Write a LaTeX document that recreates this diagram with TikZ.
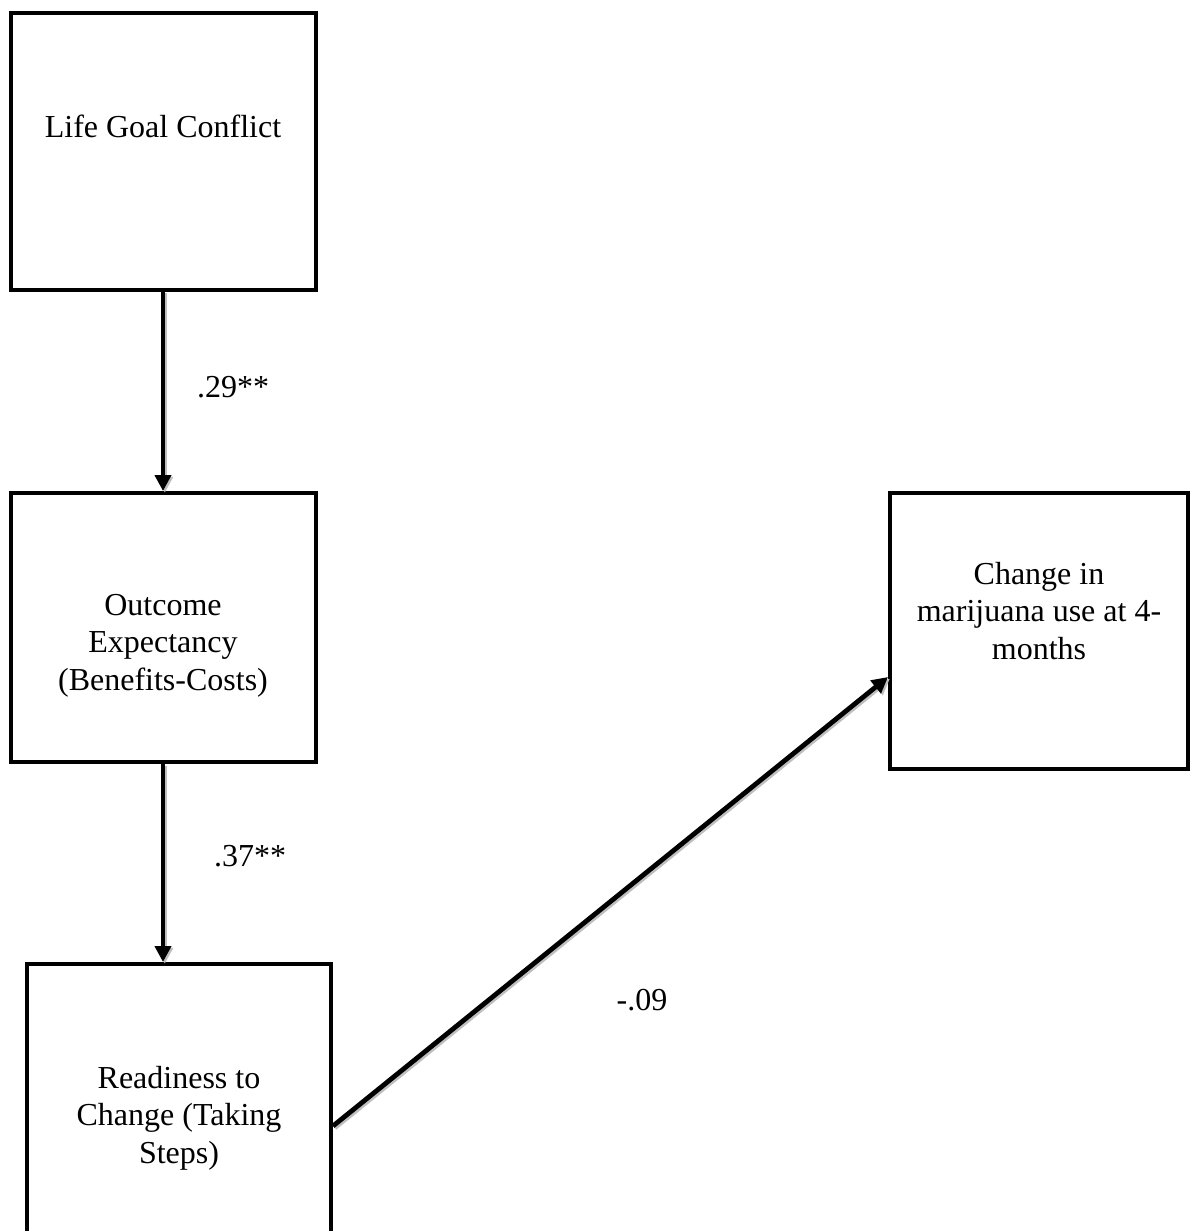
\documentclass[tikz,border=0pt]{standalone}
\usepackage{fontspec}
\setmainfont{Liberation Serif}
\usetikzlibrary{arrows.meta, positioning}

\begin{document}
\begin{tikzpicture}[x=0.5pt, y=-0.5pt,
    box/.style={draw, line width=2pt, minimum width=152.5pt, inner sep=0pt},
    boxtext/.style={anchor=base, align=center, font=\fontsize{16}{18.75}\selectfont},
    coef/.style={anchor=base, font=\fontsize{16}{18.75}\selectfont},
    path/.style={line width=2.4pt, -{Triangle[length=8pt,width=8pt]},
        preaction={draw=black!25, line width=2.4pt,
            transform canvas={shift={(0.9pt,-0.9pt)}}}}]
\useasboundingbox (0,0) rectangle (1191,1231);

% Boxes
\node[box, minimum height=138.5pt] (lgc) at (163,151) {};
\node[box, minimum height=134.5pt] (oe) at (163,627.5) {};
\node[box, minimum width=152pt, minimum height=162pt] (rtc) at (179,1126) {};
\node[box, minimum width=149pt, minimum height=138pt] (cmu) at (1039,631) {};

% Box texts (base = last line)
\node[boxtext] (lgc-t) at ([yshift=-63.5pt]lgc.north) {Life Goal Conflict};
\node[boxtext] (oe-t) at ([yshift=-99.5pt]oe.north) {Outcome\\Expectancy\\(Benefits-Costs)};
\node[boxtext] (rtc-t) at ([yshift=-100.5pt]rtc.north) {Readiness to\\Change (Taking\\Steps)};
\node[boxtext] (cmu-t) at ([yshift=-84pt]cmu.north) {Change in\\marijuana use at 4-\\months};

% Paths
\draw[path] (lgc.south) -- (oe.north);
\draw[path] (oe.south) -- (oe.south |- rtc.north);
\draw[path] (rtc.east) -- (cmu.west |- 0,677);

% Coefficients
\node[coef] (c1) at (233,397) {.29**};
\node[coef] (c2) at (250,866) {.37**};
\node[coef] (c3) at (642,1010) {-.09};
\end{tikzpicture}
\end{document}
